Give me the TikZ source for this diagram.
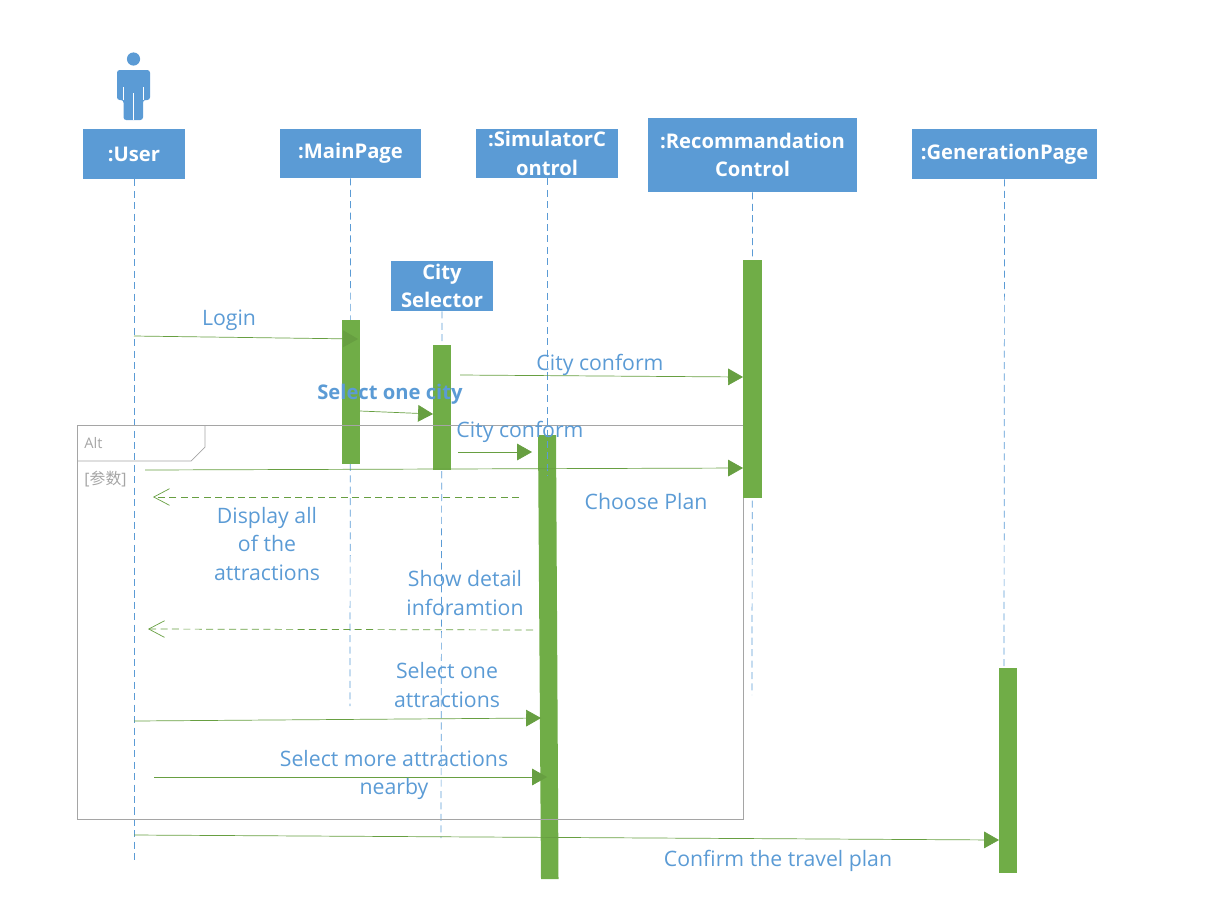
\documentclass[tikz,border=0pt]{standalone}
\usepackage{fontspec}
\setmainfont{Open Sans}
\newfontfamily\cjk{Noto Sans CJK SC}
\usetikzlibrary{arrows.meta}
\definecolor{headblue}{HTML}{5B9BD5}
\definecolor{bargreen}{HTML}{70AD47}
\definecolor{framegray}{HTML}{A5A5A5}
\tikzset{
    head/.style={fill=headblue, text=white, font=\fontsize{11.5}{16.4}\selectfont\bfseries, align=center, inner sep=0pt},
    bar/.style={fill=bargreen, inner sep=0pt, minimum width=0.36cm},
    lifeline/.style={headblue, thin, dash pattern=on 4pt off 2.5pt},
    msg/.style={bargreen!92!black, thin, -{Triangle[length=8.5pt,width=9.5pt]}},
    reply/.style={bargreen!92!black, thin, dash pattern=on 4pt off 2.5pt, -{Straight Barb[length=9pt,width=9.5pt]}},
    label/.style={text=headblue, font=\fontsize{12.1}{16.4}\selectfont, align=center, inner sep=0pt}
}
\begin{document}
\begin{tikzpicture}[x=0.02cm, y=-0.02cm]
        \useasboundingbox (0,0) rectangle (1219,910);

        % header boxes
        \node[head, minimum width=2.04cm, minimum height=1cm] (user) at (134,154) {:User};
        \node[head, minimum width=2.82cm, minimum height=0.98cm] (mainpage) at (350.5,153.5) {:MainPage};
        \node[head, minimum width=2.84cm, minimum height=0.98cm] (simulator) at (547,153.5) {:SimulatorC\\ontrol};
        \node[head, minimum width=4.18cm, minimum height=1.48cm] (recommand) at (752.5,155) {:Recommandation\\Control};
        \node[head, minimum width=3.70cm, minimum height=1cm] (generation) at (1004.5,154) {:GenerationPage};
        \node[head, minimum width=2.04cm, minimum height=1cm] (city) at (442,286) {City\\Selector};

        % the actor
        \fill[headblue] (133.5,59) circle (6.6);
        \fill[headblue, rounded corners=1.5pt] (117,100) -- (117,70) -- (150,70) -- (150,100) -- (143,100) -- (143,120) -- (123.5,120) -- (123.5,100) -- cycle;
        \draw[white, thin] (123.5,87) -- (123.5,100);
        \draw[white, thin] (143,87) -- (143,100);
        \draw[white, thin] (133.5,93) -- (133.5,120);

        % lifelines
        \coordinate (user_end) at (134,862);
        \coordinate (mainpage_end) at (350,706);
        \coordinate (simulator_end) at (547,476);
        \coordinate (recommand_end) at (752,695);
        \coordinate (generation_end) at (1004,668);
        \coordinate (city_end) at (441,838);

        \draw[lifeline] (user.south) -- (user_end);
        \draw[lifeline] (mainpage.south) -- (mainpage_end);
        \draw[lifeline] (recommand.south) -- (recommand_end);
        \draw[lifeline] (generation.south) -- (generation_end);
        \draw[lifeline] (city.south) -- (city_end);

        % activation bars
        \node[bar, minimum height=2.88cm] (bar_main) at (351,392) {};
        \node[bar, minimum height=2.50cm] (bar_city) at (442,407.5) {};
        \node[bar, minimum width=0.38cm, minimum height=4.76cm] (bar_recommand) at (752.5,379) {};
        \node[bar, minimum height=4.10cm] (bar_generation) at (1008,770.5) {};
        \fill[bargreen] (538,435) -- (556,435) -- (558.5,879) -- (541,879) -- cycle;
        \draw[lifeline] (simulator.south) -- (simulator_end);

        % alt frame
        \draw[framegray, thin] (743,425) -- (77.5,425) -- (77.5,819.5) -- (743,819.5) -- (743,498);
        \draw[framegray, thin] (205,425) -- (205,447) -- (191,461) -- (77.5,461);
        \node[text=framegray, font=\fontsize{8.3}{10}\selectfont, inner sep=0pt] (alt) at (93.5,443) {Alt};
        \node[text=framegray, font=\fontsize{9}{11}\selectfont, inner sep=0pt] (param) at (105.5,479) {[{\cjk 参数}]};

        % messages
        \coordinate (login_start) at (134,336);
        \coordinate (login_end) at (358,339);
        \coordinate (select_start) at (360,411);
        \coordinate (select_end) at (433,414);
        \coordinate (conform_start) at (460,375);
        \coordinate (conform_end) at (743,377);
        \coordinate (conform2_start) at (458,452);
        \coordinate (conform2_end) at (532,452);
        \coordinate (plan_start) at (145,470);
        \coordinate (plan_end) at (743,468);
        \coordinate (display_start) at (519,497);
        \coordinate (display_end) at (153,497);
        \coordinate (detail_start) at (533,630);
        \coordinate (detail_end) at (148,629);
        \coordinate (one_start) at (134,721);
        \coordinate (one_end) at (541,718);
        \coordinate (more_start) at (154,777);
        \coordinate (more_end) at (547,777);
        \coordinate (confirm_start) at (134,835);
        \coordinate (confirm_end) at (999,840);

        \draw[msg] (login_start) -- (login_end);
        \draw[msg] (select_start) -- (select_end);
        \draw[msg] (conform_start) -- (conform_end);
        \draw[msg] (conform2_start) -- (conform2_end);
        \draw[msg] (plan_start) -- (plan_end);
        \draw[reply] (display_start) -- (display_end);
        \draw[reply] (detail_start) -- (detail_end);
        \draw[msg] (one_start) -- (one_end);
        \draw[msg] (more_start) -- (more_end);
        \draw[msg] (confirm_start) -- (confirm_end);

        % message labels
        \node[label] (login) at (229,320) {Login};
        \node[label, font=\fontsize{11.5}{16.4}\selectfont\bfseries] (select) at (390,394) {Select one city};
        \node[label] (conform) at (600,365) {City conform};
        \node[label] (conform2) at (520,432) {City conform};
        \node[label] (plan) at (646,501.5) {Choose Plan};
        \node[label] (display) at (267,544) {Display all\\of the\\attractions};
        \node[label] (detail) at (465,593) {Show detail\\inforamtion};
        \node[label] (one) at (447,685) {Select one\\attractions};
        \node[label] (more) at (394,775) {Select more attractions\\nearby};
        \node[label] (confirm) at (778,861) {Confirm the travel plan};
\end{tikzpicture}
\end{document}
